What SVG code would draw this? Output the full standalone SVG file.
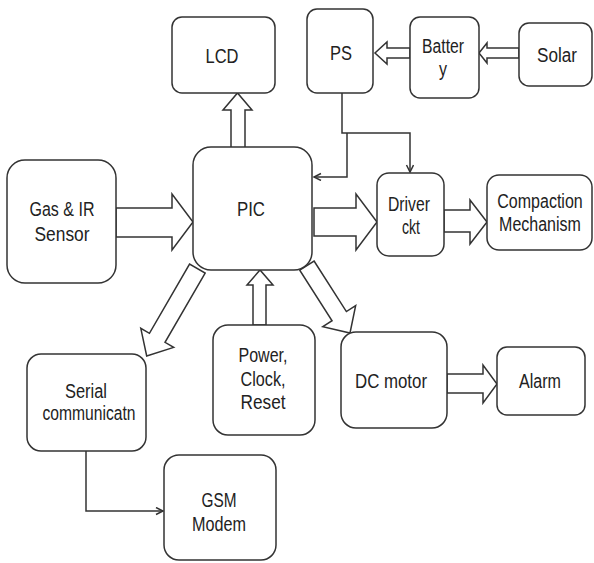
<svg xmlns="http://www.w3.org/2000/svg" width="594" height="563" viewBox="0 0 594 563">
<defs>
<marker id="chev" markerUnits="userSpaceOnUse" markerWidth="10" markerHeight="10" refX="8" refY="4" orient="auto">
<path d="M1,0.5 L8,4 L1,7.5" fill="none" stroke="#333" stroke-width="1.5"/>
</marker>
<style>
.box{fill:#fff;stroke:#333;stroke-width:1.5}
.blk{fill:#fff;stroke:#333;stroke-width:1.5;stroke-linejoin:miter}
.ln{fill:none;stroke:#333;stroke-width:1.5}
text{font-family:"Liberation Sans",Arial,sans-serif;font-size:20px;fill:#222;text-anchor:middle}
</style>
</defs>
<rect width="594" height="563" fill="#fff"/>
<g id="connectors">
<path class="blk" d="M231,150 L231,110 L223,110 L237.5,93 L252,110 L245,110 L245,150 Z"/>
<path class="blk" d="M116,208 L172,208 L172,194 L193,222 L172,250 L172,237 L116,237 Z"/>
<path class="blk" d="M314,208 L356,208 L356,194 L377,222 L356,250 L356,236 L314,236 Z"/>
<path class="blk" d="M444,210 L470,210 L470,200 L487,222 L470,244 L470,232 L444,232 Z"/>
<path class="blk" d="M410,48 L387,48 L387,42 L375,53 L387,64 L387,58 L410,58 Z"/>
<path class="blk" d="M519,48 L487,48 L487,43 L479,53 L487,63 L487,58 L519,58 Z"/>
<path class="blk" d="M447,374 L483,374 L483,365 L497,384 L483,403 L483,393 L447,393 Z"/>
<path class="blk" d="M253,325 L253,285 L247,285 L260,270 L273,285 L266,285 L266,325 Z"/>
<path class="blk" transform="translate(146.7,356) rotate(120.1)" d="M-101,-9 L-21,-9 L-21,-19 L0,0 L-21,19 L-21,9 L-101,9 Z"/>
<path class="blk" transform="translate(350,333) rotate(57.4)" d="M-80,-8.5 L-20,-8.5 L-20,-19.5 L0,0 L-20,19.5 L-20,8.5 L-80,8.5 Z"/>
<polyline class="ln" points="342,93 342,133 410,133 410,172" marker-end="url(#chev)"/>
<polyline class="ln" points="347,133 347,177 314,177" marker-end="url(#chev)"/>
<polyline class="ln" points="86,451 86,511 163,511" marker-end="url(#chev)"/>
</g>
<g id="lcd"><rect class="box" x="172" y="17" width="103" height="76" rx="10"/><text x="222" y="63" textLength="33" lengthAdjust="spacingAndGlyphs">LCD</text></g>
<g id="ps"><rect class="box" x="307" y="9" width="66" height="84" rx="10"/><text x="341" y="60" textLength="22" lengthAdjust="spacingAndGlyphs">PS</text></g>
<g id="battery"><rect class="box" x="410" y="17" width="69" height="81" rx="10"/><text x="443" y="53" textLength="42" lengthAdjust="spacingAndGlyphs">Batter</text><text x="443" y="76" textLength="8" lengthAdjust="spacingAndGlyphs">y</text></g>
<g id="solar"><rect class="box" x="519" y="23" width="73" height="63" rx="10"/><text x="557" y="62" textLength="40" lengthAdjust="spacingAndGlyphs">Solar</text></g>
<g id="pic"><rect class="box" x="193" y="147" width="119" height="123" rx="18"/><text x="251" y="216" textLength="28" lengthAdjust="spacingAndGlyphs">PIC</text></g>
<g id="gas"><rect class="box" x="7" y="160" width="109" height="123" rx="18"/><text x="62" y="216" textLength="65" lengthAdjust="spacingAndGlyphs">Gas &amp; IR</text><text x="62" y="241" textLength="55" lengthAdjust="spacingAndGlyphs">Sensor</text></g>
<g id="driver"><rect class="box" x="377" y="173" width="67" height="83" rx="12"/><text x="409" y="211" textLength="42" lengthAdjust="spacingAndGlyphs">Driver</text><text x="411" y="234" textLength="18" lengthAdjust="spacingAndGlyphs">ckt</text></g>
<g id="compaction"><rect class="box" x="487" y="175" width="105" height="75" rx="12"/><text transform="translate(540,208) scale(0.8,1)">Compaction</text><text transform="translate(540,231) scale(0.8,1)">Mechanism</text></g>
<g id="power"><rect class="box" x="213" y="325" width="102" height="110" rx="15"/><text x="263" y="362" textLength="49" lengthAdjust="spacingAndGlyphs">Power,</text><text x="263" y="386" textLength="45" lengthAdjust="spacingAndGlyphs">Clock,</text><text x="263" y="409" textLength="45" lengthAdjust="spacingAndGlyphs">Reset</text></g>
<g id="serial"><rect class="box" x="27" y="354" width="119" height="97" rx="14"/><text x="86" y="398" textLength="42" lengthAdjust="spacingAndGlyphs">Serial</text><text x="89" y="420" textLength="93" lengthAdjust="spacingAndGlyphs">communicatn</text></g>
<g id="gsm"><rect class="box" x="164" y="455" width="112" height="105" rx="15"/><text x="219" y="507" textLength="35" lengthAdjust="spacingAndGlyphs">GSM</text><text x="219" y="531" textLength="54" lengthAdjust="spacingAndGlyphs">Modem</text></g>
<g id="dcmotor"><rect class="box" x="341" y="332" width="106" height="96" rx="15"/><text x="391" y="388" textLength="72" lengthAdjust="spacingAndGlyphs">DC motor</text></g>
<g id="alarm"><rect class="box" x="497" y="347" width="88" height="68" rx="10"/><text x="540" y="388" textLength="42" lengthAdjust="spacingAndGlyphs">Alarm</text></g>
</svg>
